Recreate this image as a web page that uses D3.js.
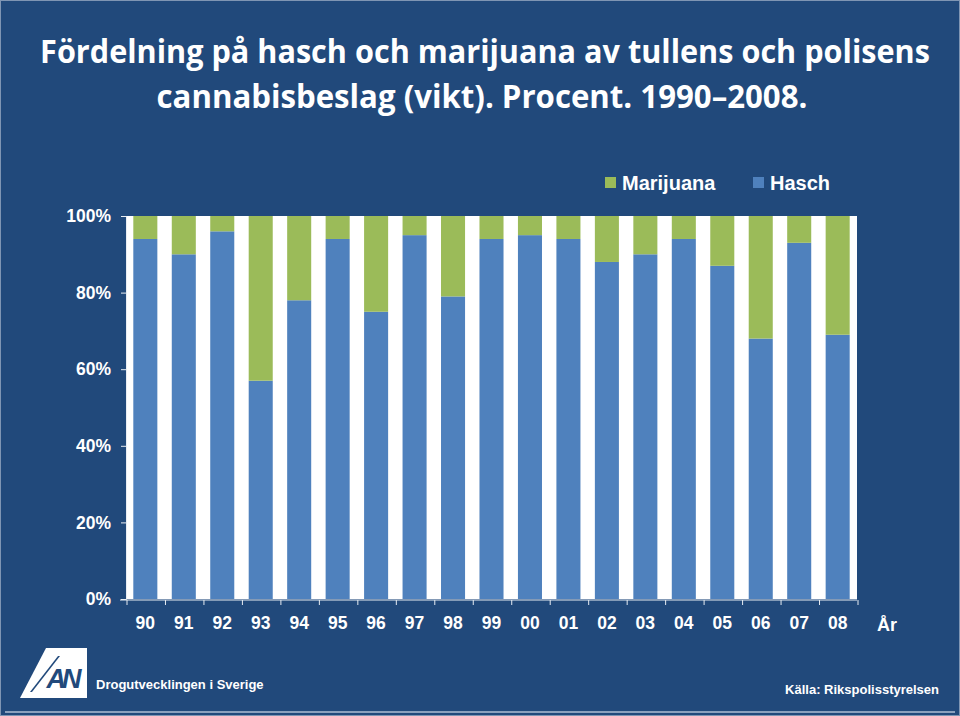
<!DOCTYPE html>
<html><head><meta charset="utf-8">
<script src="https://cdn.jsdelivr.net/npm/d3@7"></script>
<style>html,body{margin:0;padding:0;background:#21497b;}svg{display:block;}</style>
</head><body>
<svg id="c" width="960" height="716"></svg>
<script>
const years = ["90","91","92","93","94","95","96","97","98","99","00","01","02","03","04","05","06","07","08"];
const hasch = [94,90,96,57,78,94,75,95,79,94,95,94,88,90,94,87,68,93,69];
const marijuana = [6,10,4,43,22,6,25,5,21,6,5,6,12,10,6,13,32,7,31];
const yTicks = [0,20,40,60,80,100];
const seriesNames = ["Marijuana","Hasch"];
const colors = {Hasch:"#4f81bd", Marijuana:"#9bbb59"};

(function(){
const svg = d3.select("#c");
const W=960,H=716;
const sans = "'Liberation Sans',Arial,sans-serif";
svg.append("rect").attr("x",0).attr("y",0).attr("width",W).attr("height",H).attr("fill","#21497b");
svg.append("rect").attr("x",0.5).attr("y",0.5).attr("width",W-1).attr("height",H-1).attr("fill","none").attr("stroke","#7f95b3").attr("stroke-width",1);

// Title (fit to measured widths by horizontal scaling)
const titleLines = [
  {t:"Fördelning på hasch och marijuana av tullens och polisens", cx:485, y:63, w:890},
  {t:"cannabisbeslag (vikt). Procent. 1990–2008.", cx:482, y:108, w:651}
];
titleLines.forEach(l=>{
  const tx = svg.append("text").attr("fill","#fff").attr("font-family","'Open Sans',Lato,sans-serif")
    .attr("font-weight",700).attr("font-size",33).attr("text-anchor","middle").text(l.t);
  const nat = tx.node().getComputedTextLength();
  tx.attr("transform",`translate(${l.cx},${l.y}) scale(${l.w/nat},1)`);
});

const pL=126,pR=857,pT=216,pB=599;
const x = d3.scaleBand().domain(years).range([pL,pR]).paddingInner(0.375).paddingOuter(0.19);
const y = d3.scaleLinear().domain([0,100]).range([pB,pT]);

svg.append("rect").attr("x",pL).attr("y",pT).attr("width",pR-pL).attr("height",pB-pT).attr("fill","#fff");

const data = years.map((yr,i)=>({year:yr,Hasch:hasch[i],Marijuana:marijuana[i]}));
const stack = d3.stack().keys(["Hasch","Marijuana"])(data);
svg.append("g").selectAll("g").data(stack).join("g").attr("fill",d=>colors[d.key])
  .selectAll("rect").data(d=>d).join("rect")
  .attr("x",d=>x(d.data.year)).attr("width",x.bandwidth())
  .attr("y",d=>y(d[1])).attr("height",d=>y(d[0])-y(d[1]));

// Y axis
const ya = svg.append("g").attr("transform",`translate(${pL},0)`)
  .call(d3.axisLeft(y).tickValues(yTicks).tickFormat(d=>d+"%").tickSize(5).tickPadding(10));
ya.select(".domain").attr("stroke","#e8edf3");
ya.selectAll(".tick line").attr("stroke","#e8edf3");
ya.selectAll("text").attr("fill","#fff").attr("font-family",sans).attr("font-weight","bold").attr("font-size",17.5);

// X axis
const xa = svg.append("g").attr("transform",`translate(0,${pB+1})`)
  .call(d3.axisBottom(x).tickSize(0).tickPadding(17));
xa.select(".domain").attr("stroke","#e8edf3").attr("d",`M${pL-6},0H${pR}`);
xa.selectAll("text").attr("fill","#fff").attr("font-family",sans).attr("font-weight","bold").attr("font-size",17.5);
const bounds = d3.range(years.length+1).map(i=>pL+1+i*(pR-pL)/years.length);
xa.selectAll("line.b").data(bounds).join("line").attr("class","b")
  .attr("x1",d=>d).attr("x2",d=>d).attr("y1",0).attr("y2",5).attr("stroke","#e8edf3");

svg.append("text").attr("x",887).attr("y",631).attr("text-anchor","middle").attr("fill","#fff")
  .attr("font-family",sans).attr("font-weight","bold").attr("font-size",18).text("År");

// Legend
const lg = svg.append("g");
const legendPos = [{k:"Marijuana",x:605},{k:"Hasch",x:753}];
legendPos.forEach(p=>{
  lg.append("rect").attr("x",p.x).attr("y",177).attr("width",11).attr("height",11).attr("fill",colors[p.k]);
  lg.append("text").attr("x",p.x+17).attr("y",190).attr("fill","#fff").attr("font-family",sans)
    .attr("font-weight","bold").attr("font-size",20).text(p.k);
});

// Footer
svg.append("line").attr("x1",5).attr("x2",955).attr("y1",712).attr("y2",712).attr("stroke","#8aa0bd").attr("stroke-width",2);
const logo = svg.append("g");
logo.append("path").attr("d","M46,648 L87,648 L87,698 L20,698 Z").attr("fill","#fff");
logo.append("path").attr("d","M30,692 L58,656 L60,656 L32,692 Z").attr("fill","#21497b");
logo.append("text").attr("x",62).attr("y",688).attr("text-anchor","middle").attr("fill","#21497b")
  .attr("font-family",sans).attr("font-weight","bold").attr("font-style","italic").attr("font-size",27).attr("letter-spacing",-4).text("AN");
svg.append("text").attr("x",96).attr("y",689).attr("fill","#fff").attr("font-family",sans)
  .attr("font-weight","bold").attr("font-size",13).text("Drogutvecklingen i Sverige");
svg.append("text").attr("x",939).attr("y",694).attr("text-anchor","end").attr("fill","#fff").attr("font-family",sans)
  .attr("font-weight","bold").attr("font-size",13).text("Källa: Rikspolisstyrelsen");
})();
</script>
</body></html>
